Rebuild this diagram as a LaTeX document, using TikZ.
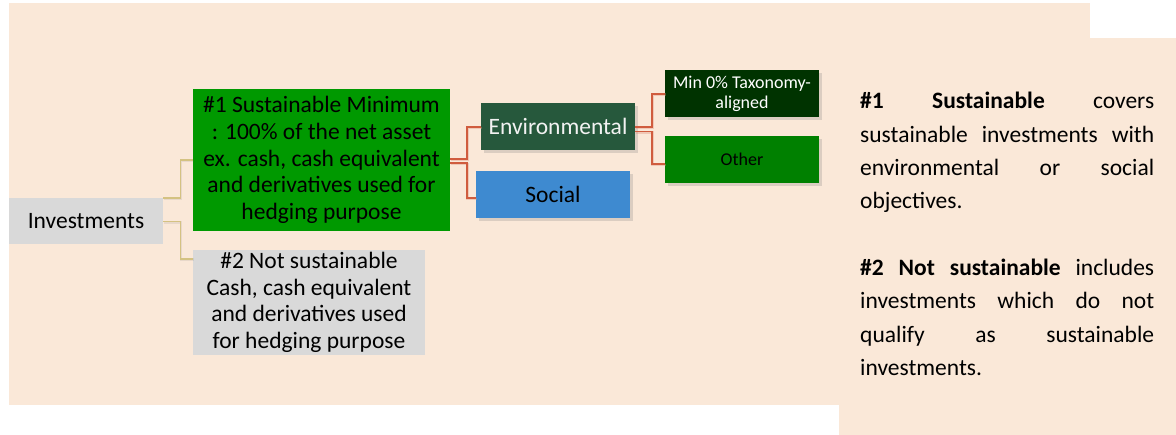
\documentclass[tikz,border=0pt]{standalone}
\usepackage{fontspec}
\setmainfont{Carlito}
\usetikzlibrary{shadows}
\definecolor{peach}{RGB}{250,232,216}
\definecolor{boxgray}{RGB}{217,217,217}
\definecolor{susgreen}{RGB}{0,153,0}
\definecolor{envgreen}{RGB}{38,88,60}
\definecolor{mingreen}{RGB}{0,51,0}
\definecolor{othgreen}{RGB}{0,128,0}
\definecolor{socblue}{RGB}{62,138,208}
\definecolor{tanline}{RGB}{212,194,130}
\definecolor{orline}{RGB}{208,92,62}
\begin{document}
\begin{tikzpicture}[x=1pt,y=-1pt,
  base/.style={inner sep=0pt, align=center, font=\fontsize{23.5}{26.7}\selectfont},
  shad/.style={drop shadow={shadow xshift=2.5pt,shadow yshift=-3pt,opacity=0.25}},
  tanc/.style={draw=tanline, line width=1.6pt,
    preaction={draw=black!60, opacity=0.12, line width=2.2pt, transform canvas={xshift=0.8pt,yshift=-0.8pt}}},
  orc/.style={draw=orline, line width=1.6pt,
    preaction={draw=orline!70, opacity=0.35, line width=2.6pt, transform canvas={xshift=0.8pt,yshift=-0.8pt}}}
]
\useasboundingbox (0,0) rectangle (1176,435);
\fill[peach] (9,3) rectangle (1090,405);
\fill[peach] (839,38) rectangle (1176,435);

\node[base, fill=boxgray, minimum width=154pt, minimum height=46pt] (inv) at (86,221) {Investments};
\node[base, fill=susgreen, minimum width=257pt, minimum height=142pt] (s1) at (321.5,160)
  {\#1 Sustainable Minimum\\: 100\% of the net asset\\ex. cash, cash equivalent\\and derivatives used for\\hedging purpose};
\node[base, fill=boxgray, minimum width=232pt, minimum height=105pt] (s2) at (309,302.5)
  {\#2 Not sustainable\\Cash, cash equivalent\\and derivatives used\\for hedging purpose};
\node[base, shad, fill=envgreen, text=white!95!black, minimum width=154pt, minimum height=47pt] (env) at (558,126.5) {Environmental};
\node[base, shad, fill=socblue, minimum width=154pt, minimum height=47pt] (soc) at (553,194.5) {Social};
\node[base, shad, fill=mingreen, text=white, minimum width=154pt, minimum height=47pt,
  font=\fontsize{18}{20}\selectfont] (min) at (742,93.5) {Min 0\% Taxonomy-\\aligned};
\node[base, shad, fill=othgreen, minimum width=154pt, minimum height=47pt,
  font=\fontsize{18}{20}\selectfont] (oth) at (742,159.5) {Other};

\node[inner sep=0pt, anchor=base west] (txt) at (860,109) {\parbox[t]{294pt}{\fontsize{23.5}{33.3}\selectfont\setlength{\parindent}{0pt}%
\makebox[294pt][s]{\textbf{\#1 Sustainable} covers}\par
\makebox[294pt][s]{sustainable investments with}\par
\makebox[294pt][s]{environmental or social}\par
objectives.\par
\mbox{}\par
\makebox[294pt][s]{\textbf{\#2 Not sustainable} includes}\par
\makebox[294pt][s]{investments which do not}\par
\makebox[294pt][s]{qualify as sustainable}\par
investments.}};

% connectors
\draw[tanc] (inv.north east) -- ++(17.3,0) |- (s1.west);
\draw[tanc] ([yshift=-0.7pt]inv.east) -- ++(17.3,0) |- ([yshift=-9pt]s2.north west);
\draw[orc] ([yshift=1pt]s1.east) -- ++(16.7,0) |- ([yshift=-0.8pt]env.west);
\draw[orc] ([yshift=-3.3pt]s1.east) -- ++(16.7,0) |- ([yshift=-3.8pt]soc.west);
\draw[orc] ([yshift=-0.8pt]env.east) -- ++(16.7,0) |- ([yshift=-0.5pt]min.west);
\draw[orc] ([yshift=-5.2pt]env.east) -- ++(16.7,0) |- ([yshift=-4.8pt]oth.west);
\end{tikzpicture}
\end{document}
